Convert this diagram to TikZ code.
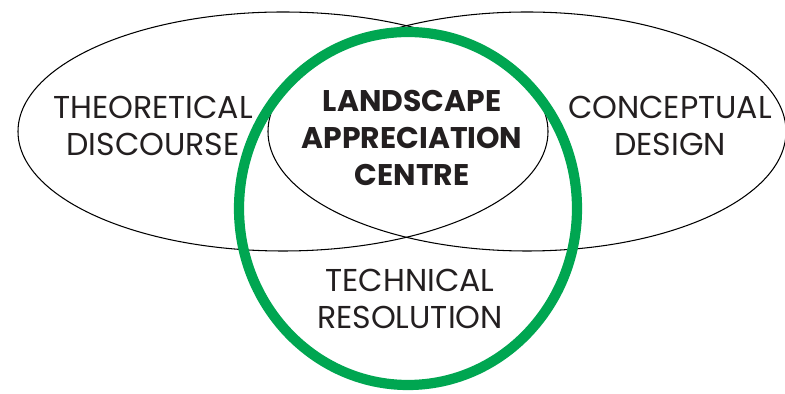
\documentclass[tikz,border=0pt]{standalone}
\usepackage{fontspec}
\setmainfont{Poppins}
\definecolor{venngreen}{HTML}{00A651}
\definecolor{inkgrey}{HTML}{231F20}
\tikzset{
  ring/.style={draw=black, line width=0.6pt},
  focus/.style={draw=venngreen, line width=5.8pt},
  label/.style={align=center, text=inkgrey, font=\fontsize{18}{21}\selectfont},
  core/.style={label, font=\fontsize{17}{21}\selectfont\bfseries}
}
\begin{document}
\begin{tikzpicture}[x=0.02cm, y=-0.02cm]
  \useasboundingbox (0,0) rectangle (785,394);
  % ovals
  \draw[ring] (283,131.5) ellipse (265 and 119.5);
  \draw[ring] (527,131.5) ellipse (259 and 119.5);
  \draw[focus] (408,208.5) ellipse (169 and 176.5);
  % texts
  \node[label] (theory) at (153,126) {THEORETICAL\\DISCOURSE};
  \node[label] (concept) at (670,126) {CONCEPTUAL\\DESIGN};
  \node[core] (centre) at (412,138) {LANDSCAPE\\APPRECIATION\\CENTRE};
  \node[label] (technic) at (410,299) {TECHNICAL\\RESOLUTION};
\end{tikzpicture}
\end{document}
